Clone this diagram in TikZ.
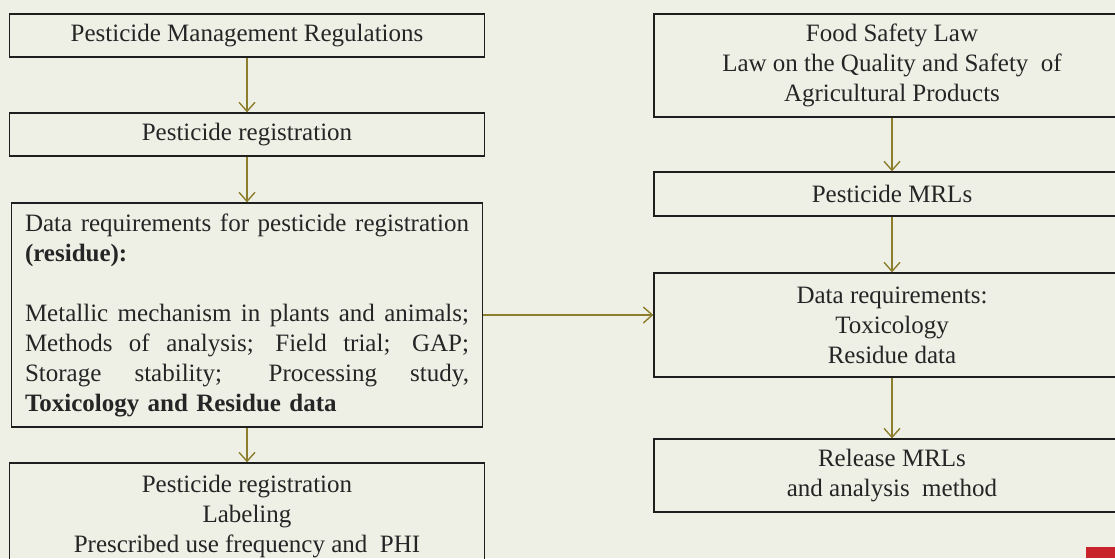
\documentclass[tikz,border=0pt]{standalone}
\usepackage{fontspec}
\setmainfont{Liberation Serif}
\usetikzlibrary{arrows.meta}
\definecolor{paper}{HTML}{EEF0E6}
\definecolor{olive}{HTML}{8C7E2C}
\definecolor{ink}{HTML}{252525}
\definecolor{frame}{HTML}{1E1E1E}
\definecolor{tabred}{HTML}{C9242B}
% a line whose word spaces stretch to the full text width
\newcommand{\fullline}[1]{\makebox[\linewidth][s]{\spaceskip=0pt\xspaceskip=0pt #1}}
\begin{document}
\begin{tikzpicture}[x=1pt,y=-1pt,
  box/.style={draw=frame, line width=1.3pt, rectangle, minimum width=475pt,
    inner sep=0pt, align=center, text=ink, font=\fontsize{25}{30}\selectfont},
  flow/.style={draw=olive, line width=1.4pt,
    -{Straight Barb[length=9pt,width=16pt,line width=1.4pt]}}]
\clip (0,0) rectangle (1115,558);
\fill[paper] (0,0) rectangle (1115,558);

% left column: registration chain
\node[box, minimum height=43pt] (reg) at (247,35.5) {Pesticide Management Regulations};
\node[box, minimum height=43pt] (preg) at (247,134.5) {Pesticide registration};
\node[box, minimum width=471pt, minimum height=224pt, text width=444pt, align=left] (data) at (247,315)
  {\fullline{Data requirements for pesticide registration}\\
   \textbf{(residue):}\\[30pt]
   \fullline{Metallic mechanism in plants and animals;}\\
   \fullline{Methods of analysis; Field trial; GAP;}\\
   \fullline{Storage stability; Processing study,}\\
   \textbf{Toxicology and Residue data}};
\node[box, minimum height=108pt] (label) at (247,517)
  {Pesticide registration\\Labeling\\Prescribed use frequency and\ \ PHI};

% right column: MRL chain
\node[box, minimum width=476pt, minimum height=103pt] (food) at (892,65.5)
  {Food Safety Law\\Law on the Quality and Safety\ \ of\\Agricultural Products};
\node[box, minimum width=476pt, minimum height=44pt] (mrl) at (892,194) {Pesticide MRLs};
\node[box, minimum width=476pt, minimum height=104pt] (req) at (892,325)
  {Data requirements:\\Toxicology\\Residue data};
\node[box, minimum width=476pt, minimum height=73pt] (rel) at (892,475.5)
  {Release MRLs\\and analysis\ \ method};

% connectors
\draw[flow] (reg) -- (preg);
\draw[flow] (preg) -- (data);
\draw[flow] (data) -- (label);
\draw[flow] (food) -- (mrl);
\draw[flow] (mrl) -- (req);
\draw[flow] (req) -- (rel);
\draw[flow] (data.east) -- (data.east -| req.west);

% corner tab
\fill[tabred] (1086,547) rectangle (1115,558);
\end{tikzpicture}
\end{document}
